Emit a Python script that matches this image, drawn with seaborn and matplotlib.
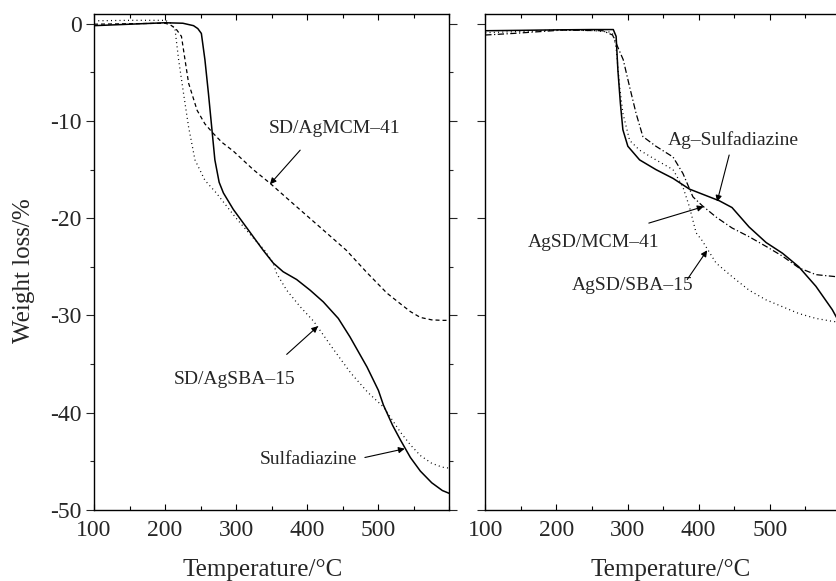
import matplotlib
matplotlib.use("Agg")
import matplotlib.pyplot as plt
import seaborn as sns
from matplotlib.ticker import MultipleLocator

sns.set_style("ticks")
plt.rcParams['font.family'] = ['Liberation Serif', 'DejaVu Serif']
plt.rcParams['axes.unicode_minus'] = False

# ---------------- data: left panel ----------------
temp_sd = [100, 150, 200, 225, 240, 246, 251, 256, 261, 265.5, 270, 276, 282, 296, 310,
           324, 338, 352, 366, 385, 404, 422.5, 443.6, 460, 484, 500, 507, 520, 531, 545,
           559, 575, 590, 600]
weight_sd = [-0.2, -0.05, 0.1, 0.05, -0.2, -0.5, -1.0, -3.7, -7.2, -10.6, -14.0, -16.3, -17.4,
             -19.1, -20.5, -21.9, -23.3, -24.6, -25.5, -26.3, -27.4, -28.6, -30.3, -32.2,
             -35.3, -37.7, -39.2, -41.3, -42.8, -44.6, -46.0, -47.2, -48.0, -48.3]

temp_sd_sba = [100, 150, 200, 207, 214, 219, 226, 233, 242, 256, 272, 287, 300, 320, 340, 352,
               357, 371, 390, 409, 435, 461, 485, 507, 520, 531, 545, 559, 575, 590, 600]
weight_sd_sba = [0.3, 0.35, 0.35, 0.1, -0.6, -3.7, -7.2, -10.6, -14.0, -16.1, -17.4, -18.8,
                 -20.0, -21.7, -23.3, -24.6, -25.7, -27.4, -29.1, -30.6, -33.3, -35.9, -37.9,
                 -39.4, -40.8, -42.0, -43.3, -44.4, -45.2, -45.6, -45.7]

temp_sd_mcm = [100, 150, 200, 207, 215, 223, 233, 245, 256, 268, 280, 296, 324, 347.5, 380,
               417.6, 455, 484, 512, 531, 545, 559, 575, 590, 600]
weight_sd_mcm = [-0.05, 0.0, 0.05, -0.1, -0.5, -1.3, -6.1, -8.9, -10.3, -11.3, -12.2, -13.1,
                 -15.0, -16.4, -18.5, -20.9, -23.3, -25.6, -27.7, -28.8, -29.6, -30.2, -30.45,
                 -30.5, -30.5]

# ---------------- data: right panel ----------------
temp_agsd = [100, 150, 200, 250, 280, 284, 286.5, 290, 293.5, 300.5, 317, 340, 364, 387, 401,
             429, 447, 471, 495, 518, 541, 565, 588, 600]
weight_agsd = [-0.72, -0.68, -0.63, -0.6, -0.6, -1.3, -4.8, -8.2, -10.9, -12.6, -14.0, -15.0,
               -15.9, -17.0, -17.4, -18.2, -18.9, -20.9, -22.5, -23.6, -25.0, -27.0, -29.4, -31.0]

temp_agsd_mcm = [100, 139, 209, 265, 279, 294, 303, 312, 321.6, 340, 364, 378, 392, 405, 425,
                 447, 471, 495, 518, 541, 565, 592, 600]
weight_agsd_mcm = [-1.16, -1.0, -0.65, -0.72, -1.16, -3.7, -6.5, -9.2, -11.6, -12.6, -13.7,
                   -15.4, -17.8, -18.7, -19.9, -21.0, -21.9, -22.9, -23.9, -25.1, -25.8, -26.0,
                   -26.0]

temp_agsd_sba = [100, 150, 200, 250, 275, 280, 284, 289, 293.5, 303, 317, 340, 364, 378, 387,
                 396.5, 405, 424.5, 447, 471, 495, 518, 541, 565, 588, 600]
weight_agsd_sba = [-0.92, -0.8, -0.65, -0.7, -0.85, -1.1, -2.5, -6.5, -9.2, -12.0, -13.0, -14.0,
                   -15.0, -16.8, -18.8, -21.5, -22.3, -24.6, -26.0, -27.4, -28.4, -29.1, -29.8,
                   -30.3, -30.6, -30.7]

x_ticks = [100, 200, 300, 400, 500]
y_ticks = [0, -10, -20, -30, -40, -50]
x_label = "Temperature/°C"
y_label = "Weight loss/%"

# ---------------- figure ----------------
fig = plt.figure(figsize=(8.36, 5.81), dpi=100)
axL = fig.add_axes([94 / 836, 71 / 581, 355.5 / 836, 496 / 581])
axR = fig.add_axes([485.3 / 836, 71 / 581, 355.5 / 836, 496 / 581])

lw = 1.1
dash_s = (0, (3.2, 2.4))
dot_s = (0, (0.8, 2.6))
dashdot_s = (0, (5, 2, 1, 2))

sns.lineplot(x=temp_sd, y=weight_sd, ax=axL, color='black', lw=lw, estimator=None)
sns.lineplot(x=temp_sd_sba, y=weight_sd_sba, ax=axL, color='black', lw=0.9,
             linestyle=dot_s, estimator=None)
sns.lineplot(x=temp_sd_mcm, y=weight_sd_mcm, ax=axL, color='black', lw=0.9,
             linestyle=dash_s, estimator=None)

sns.lineplot(x=temp_agsd, y=weight_agsd, ax=axR, color='black', lw=lw, estimator=None)
sns.lineplot(x=temp_agsd_mcm, y=weight_agsd_mcm, ax=axR, color='black', lw=0.9,
             linestyle=dashdot_s, estimator=None)
sns.lineplot(x=temp_agsd_sba, y=weight_agsd_sba, ax=axR, color='black', lw=0.9,
             linestyle=dot_s, estimator=None)

fs_tick = 17
fs_lab = 18
fs_ann = 14

for ax in (axL, axR):
    ax.set_xlim(100, 600)
    ax.set_ylim(-50, 1)
    ax.set_xticks(x_ticks)
    ax.set_xticklabels([str(v) for v in x_ticks])
    ax.xaxis.set_minor_locator(MultipleLocator(50))
    ax.tick_params(axis='x', which='both', direction='in', top=True, bottom=True,
                   labelsize=fs_tick, pad=7, color='black', width=0.8)
    ax.tick_params(axis='x', which='major', length=4)
    ax.tick_params(axis='x', which='minor', length=3)
    ax.set_xlabel(x_label, fontsize=fs_lab)
    ax.set_ylabel("")
    for s in ax.spines.values():
        s.set_visible(True)
        s.set_linewidth(1.0)
        s.set_color('black')

axL.xaxis.set_label_coords(0.475, -0.098)
axR.xaxis.set_label_coords(0.522, -0.098)

axL.set_yticks(y_ticks)
axL.set_yticklabels([str(v) for v in y_ticks])
axL.yaxis.set_minor_locator(MultipleLocator(5))
axL.tick_params(axis='y', which='both', direction='out', left=True, right=True,
                labelsize=fs_tick, pad=3, width=0.8)
axL.tick_params(axis='y', which='major', length=6)
axL.tick_params(axis='y', which='minor', length=3)
axL.set_ylabel(y_label, fontsize=fs_lab)
axL.yaxis.set_label_coords(-0.167, 0.482)

axR.set_yticks(y_ticks)
axR.set_yticklabels([])
axR.tick_params(axis='y', which='major', direction='out', left=True, right=False,
                length=6, width=0.8)

arrow = dict(arrowstyle='-|>', color='black', lw=0.8, mutation_scale=9,
             shrinkA=0, shrinkB=0)

# left annotations
axL.text(439, -10.8, "SD/AgMCM–41", fontsize=fs_ann, ha='center', va='center')
axL.annotate("", xy=(347.5, -16.5), xytext=(390, -13.0), arrowprops=arrow)
axL.text(298, -36.6, "SD/AgSBA–15", fontsize=fs_ann, ha='center', va='center')
axL.annotate("", xy=(415, -31.1), xytext=(371, -34.0), arrowprops=arrow)
axL.text(402, -44.8, "Sulfadiazine", fontsize=fs_ann, ha='center', va='center')
axL.annotate("", xy=(537, -43.7), xytext=(481, -44.6), arrowprops=arrow)

# right annotations
axR.text(449, -12.0, "Ag–Sulfadiazine", fontsize=fs_ann, ha='center', va='center')
axR.annotate("", xy=(426, -18.3), xytext=(443, -13.5), arrowprops=arrow)
axR.text(252.5, -22.5, "AgSD/MCM–41", fontsize=fs_ann, ha='center', va='center')
axR.annotate("", xy=(407, -18.8), xytext=(330, -20.5), arrowprops=arrow)
axR.text(307, -26.9, "AgSD/SBA–15", fontsize=fs_ann, ha='center', va='center')
axR.annotate("", xy=(412, -23.3), xytext=(384, -26.3), arrowprops=arrow)

fig.savefig("out.png", dpi=100)
